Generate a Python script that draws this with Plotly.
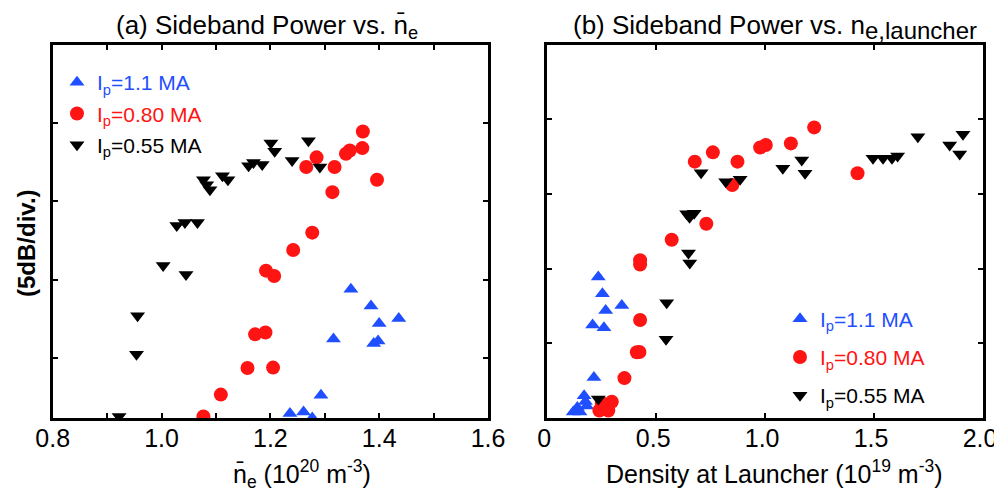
import plotly.graph_objects as go

# ---------------- data ----------------
# Panel (a): sideband power (dB, arbitrary offset) vs line-averaged density (1e20 m^-3)
blue_a_x = [1.348, 1.385, 1.400, 1.436, 1.316, 1.390, 1.398, 1.293, 1.236, 1.261, 1.277]
blue_a_y = [-15.6, -16.67, -17.78, -17.46, -18.77, -19.05, -18.9, -22.35, -23.52, -23.42, -23.8]

red_a_x = [1.370, 1.369, 1.339, 1.346, 1.285, 1.266, 1.318, 1.314, 1.396, 1.277,
           1.242, 1.192, 1.207, 1.191, 1.172, 1.158, 1.205, 1.109, 1.077]
red_a_y = [-5.54, -6.60, -6.96, -6.75, -7.19, -7.81, -7.81, -9.41, -8.62, -11.99,
           -13.09, -14.41, -14.75, -18.35, -18.47, -20.61, -20.59, -22.31, -23.7]

black_a_x = [1.270, 1.201, 1.208, 1.240, 1.291, 1.160, 1.169, 1.185, 1.077, 1.083, 1.089,
             1.112, 1.122, 1.028, 1.043, 1.066, 1.003, 1.045, 0.956, 0.954, 0.922]
black_a_y = [-6.13, -6.28, -6.81, -7.39, -7.81, -7.73, -7.52, -7.64, -8.62, -8.94, -9.26,
             -8.37, -8.62, -11.54, -11.35, -11.35, -14.09, -14.65, -17.28, -19.73, -23.7]

# Panel (b): sideband power vs density at launcher (1e19 m^-3)
blue_b_x = [0.234, 0.253, 0.268, 0.342, 0.208, 0.260, 0.214, 0.169, 0.181, 0.138, 0.119, 0.150, 0.175]
blue_b_y = [-15.56, -16.69, -17.8, -17.47, -18.78, -18.96, -22.29, -23.51, -24.2, -24.29, -24.6, -24.6, -23.9]

red_b_x = [1.225, 1.118, 1.003, 0.977, 0.760, 0.677, 0.873, 0.849, 1.424, 0.730, 0.571,
           0.426, 0.426, 0.426, 0.423, 0.411, 0.354, 0.296, 0.265, 0.239, 0.280, 0.250]
red_b_y = [-5.55, -6.62, -6.73, -6.89, -7.22, -7.84, -7.84, -9.4, -8.62, -12.0, -13.07,
           -14.44, -14.73, -18.44, -20.58, -20.6, -22.33, -23.91, -24.2, -24.5, -24.5, -24.0]

black_b_x = [1.908, 1.847, 1.893, 1.701, 1.495, 1.541, 1.582, 1.608, 1.168, 1.183, 1.081,
             0.706, 0.819, 0.885, 0.640, 0.674, 0.653, 0.648, 0.654, 0.548, 0.545, 0.234]
black_b_y = [-6.0, -6.73, -7.33, -6.18, -7.62, -7.62, -7.62, -7.47, -7.73, -8.62, -8.29,
             -8.58, -9.18, -9.02, -11.33, -11.29, -11.56, -13.96, -14.62, -17.29, -19.73, -23.73]

series_names = ["I<sub>p</sub>=1.1 MA", "I<sub>p</sub>=0.80 MA", "I<sub>p</sub>=0.55 MA"]

xa_tickvals = [0.8, 0.9, 1.0, 1.1, 1.2, 1.3, 1.4, 1.5, 1.6]
xa_ticktext = ["0.8", "", "1.0", "", "1.2", "", "1.4", "", "1.6"]
xb_tickvals = [0, 0.5, 1.0, 1.5, 2.0]
xb_ticktext = ["0", "0.5", "1.0", "1.5", "2.0"]
ya_tickvals = [-5, -10, -15, -20]
yb_tickvals = [-5, -10, -15, -20]

# ---------------- styling ----------------
BLUE = "#1f4fff"
RED = "#ff1414"
BLACK = "#000000"
FONT = "Liberation Sans, Arial, Helvetica, sans-serif"

# The page body has the browser's default 8 px margin, so the figure is
# sized to fill the rest of the 1002x499 window; positions below are in
# window pixels and converted to figure paper fractions.
OFF = 8
W, H = 1002 - OFF, 499 - OFF

def px_x(p):
    return (p - OFF) / W

def px_y(p):
    return 1 - (p - OFF) / H

fig = go.Figure()

colors = [BLUE, RED, BLACK]
symbols = ["triangle-up", "circle", "triangle-down"]
sizes = [13, 14, 13]

panel_a = [(blue_a_x, blue_a_y), (red_a_x, red_a_y), (black_a_x, black_a_y)]
panel_b = [(blue_b_x, blue_b_y), (red_b_x, red_b_y), (black_b_x, black_b_y)]

for i, (xs, ys) in enumerate(panel_a):
    fig.add_trace(go.Scatter(
        x=xs, y=ys, mode="markers", xaxis="x", yaxis="y",
        marker=dict(symbol=symbols[i], size=sizes[i], color=colors[i], line=dict(width=0)),
        name=f'<span style="color:{colors[i]}">{series_names[i]}</span>',
        legend="legend", legendgroup=f"a{i}", showlegend=True,
    ))

for i, (xs, ys) in enumerate(panel_b):
    fig.add_trace(go.Scatter(
        x=xs, y=ys, mode="markers", xaxis="x2", yaxis="y2",
        marker=dict(symbol=symbols[i], size=sizes[i], color=colors[i], line=dict(width=0)),
        name=f'<span style="color:{colors[i]}">{series_names[i]}</span>',
        legend="legend2", legendgroup=f"b{i}", showlegend=True,
    ))

axis_common = dict(
    showgrid=False, zeroline=False, showline=True, linecolor="black", linewidth=3,
    mirror="ticks", ticks="inside", ticklen=5, tickwidth=2, tickcolor="black",
    tickfont=dict(family=FONT, size=25, color="black"), automargin=False,
)

dom_y = [px_y(418), px_y(44.5)]

fig.update_layout(
    width=W, height=H,
    margin=dict(l=0, r=0, t=0, b=0, pad=0, autoexpand=False),
    paper_bgcolor="white", plot_bgcolor="white",
    font=dict(family=FONT, color="black"),
    xaxis=dict(domain=[px_x(52.7), px_x(488)], range=[0.8, 1.6],
               tickmode="array", tickvals=xa_tickvals, ticktext=xa_ticktext,
               ticklabelstandoff=-4, ticklabeloverflow="allow", anchor="y", **axis_common),
    yaxis=dict(domain=dom_y, range=[-23.8, 0], tickmode="array",
               tickvals=ya_tickvals, showticklabels=False, anchor="x", **axis_common),
    xaxis2=dict(domain=[px_x(547.3), px_x(983)], range=[0, 2.0],
                tickmode="array", tickvals=xb_tickvals, ticktext=xb_ticktext,
                ticklabelstandoff=-4, ticklabelshift=-3, ticklabeloverflow="allow",
                anchor="y2", **axis_common),
    yaxis2=dict(domain=dom_y, range=[-25, 0], tickmode="array",
                tickvals=yb_tickvals, showticklabels=False, anchor="x2", **axis_common),
    legend=dict(x=px_x(57), y=px_y(62), xanchor="left", yanchor="top",
                bgcolor="rgba(0,0,0,0)", borderwidth=0,
                font=dict(family=FONT, size=21), tracegroupgap=1,
                itemclick=False, itemdoubleclick=False),
    legend2=dict(x=px_x(780), y=px_y(298.5), xanchor="left", yanchor="top",
                 bgcolor="rgba(0,0,0,0)", borderwidth=0,
                 font=dict(family=FONT, size=21), tracegroupgap=8,
                 itemclick=False, itemdoubleclick=False),
    showlegend=True,
)

annotations = [
    dict(text="(a) Sideband Power vs. n\u0304<sub>e</sub>", x=px_x(267), y=px_y(8.5),
         yanchor="top", font=dict(family=FONT, size=26)),
    dict(text='(b) Sideband Power vs. n<sub><span style="font-size:24px">e,launcher</span></sub>',
         x=px_x(775), y=px_y(8.5), yanchor="top", font=dict(family=FONT, size=26)),
    dict(text="n\u0304<sub>e</sub> (10<sup>20</sup> m<sup>-3</sup>)", x=px_x(302), y=px_y(474),
         yanchor="middle", font=dict(family=FONT, size=25)),
    dict(text="Density at Launcher (10<sup>19</sup> m<sup>-3</sup>)", x=px_x(774), y=px_y(472),
         yanchor="middle", font=dict(family=FONT, size=25)),
    dict(text="<b>(5dB/div.)</b>", x=px_x(27), y=px_y(243), textangle=-90,
         yanchor="middle", font=dict(family=FONT, size=24)),
]
for a in annotations:
    fig.add_annotation(xref="paper", yref="paper", xanchor="center",
                       showarrow=False, **a)

fig.write_html("out.html")
